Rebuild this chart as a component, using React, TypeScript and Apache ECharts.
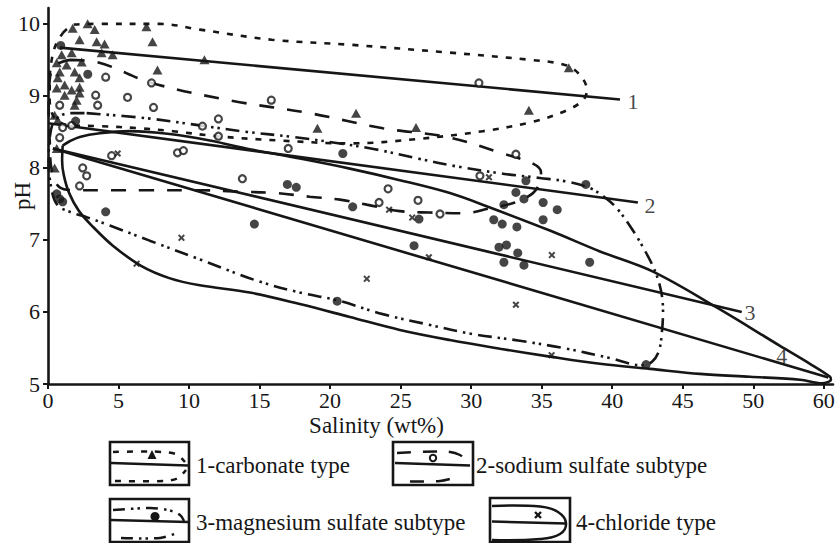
import React, { useEffect, useRef } from "react";
import * as echarts from "echarts";

// ---------- axis ticks ----------
const X_TICKS = [0, 5, 10, 15, 20, 25, 30, 35, 40, 45, 50, 55];
const X_TICK_LABELS = ["0", "5", "10", "15", "20", "25", "30", "35", "40", "45", "50", "60"];
const Y_TICKS = [5, 6, 7, 8, 9, 10];

// ---------- trend lines (salinity wt%, pH) ----------
const line1 = [[0.83, 9.67], [40.55, 8.95]];
const line2 = [[0, 8.62], [41.82, 7.52]];
const line3 = [[0.35, 8.27], [49.18, 6.0]];
const line4 = [[0.35, 8.27], [55.32, 5.09]];
const lineLabels = [[41.47, 8.92, "1"], [42.67, 7.48, "2"], [49.77, 5.99, "3"], [52.02, 5.39, "4"]];

// ---------- envelopes ----------
const carbonateEnvelope = [
  [1.04, 9.87], [1.89, 9.99], [3.67, 10.0], [7.92, 10.0], [10.76, 9.92], [15.86, 9.78], [21.4, 9.71],
  [28.5, 9.6], [34.16, 9.5], [36.65, 9.43], [37.71, 9.29], [38.21, 9.08], [37.92, 8.94], [36.79, 8.8],
  [34.38, 8.64], [30.83, 8.51], [26.15, 8.4], [21.4, 8.34], [16.43, 8.38], [11.97, 8.44], [8.85, 8.51],
  [6.51, 8.55], [3.67, 8.58], [1.54, 8.59], [0.48, 8.69], [0.12, 8.94], [0.12, 9.22], [0.26, 9.5],
  [0.55, 9.71], [1.04, 9.87],
];
const sodiumEnvelope = [
  [1.54, 9.5], [3.45, 9.47], [7.35, 9.18], [13.11, 8.93], [18.55, 8.76], [23.74, 8.55], [28.28, 8.43],
  [32.25, 8.2], [34.38, 8.06], [34.95, 7.94], [34.87, 7.8], [34.38, 7.65], [33.1, 7.52], [31.33, 7.44],
  [29.41, 7.37], [27.07, 7.38], [24.94, 7.4], [22.6, 7.49], [20.69, 7.56], [18.55, 7.6], [16.22, 7.65],
  [13.6, 7.67], [10.76, 7.69], [7.21, 7.69], [4.38, 7.69], [2.04, 7.69], [0.83, 7.73], [0.26, 7.97],
  [0.12, 8.38], [0.05, 8.8], [0.12, 9.22], [0.48, 9.42], [1.54, 9.5],
];
const magnesiumEnvelope = [
  [2.74, 8.76], [7.0, 8.69], [10.76, 8.59], [14.09, 8.5], [17.35, 8.43], [20.69, 8.34], [23.17, 8.26],
  [26.22, 8.13], [28.99, 8.02], [32.25, 7.92], [34.87, 7.86], [36.79, 7.81], [38.42, 7.72], [39.48, 7.59],
  [40.33, 7.44], [41.47, 7.13], [42.32, 6.85], [43.03, 6.57], [43.45, 6.3], [43.6, 6.02], [43.53, 5.74],
  [43.31, 5.46], [42.82, 5.31], [42.11, 5.26], [39.84, 5.36], [36.5, 5.5], [33.45, 5.6], [29.91, 5.7],
  [27.07, 5.82], [23.74, 5.97], [20.55, 6.16], [17.85, 6.27], [14.87, 6.43], [10.76, 6.73], [7.21, 6.99],
  [4.38, 7.2], [2.82, 7.31], [1.68, 7.38], [0.69, 7.48], [0.26, 7.69], [0.05, 8.11], [0.12, 8.41],
  [0.48, 8.66], [1.54, 8.76], [2.74, 8.76],
];
const chlorideEnvelope = [
  [1.04, 8.31], [1.54, 8.37], [2.25, 8.43], [3.67, 8.48], [5.79, 8.51], [8.63, 8.47], [11.47, 8.38],
  [14.3, 8.26], [17.85, 8.13], [21.4, 7.99], [24.94, 7.83], [28.49, 7.65], [31.33, 7.45], [35.58, 7.13],
  [39.13, 6.84], [42.89, 6.56], [47.43, 6.06], [51.89, 5.53], [54.02, 5.28], [55.44, 5.1], [55.5, 5.06],
  [54.87, 5.01], [53.31, 5.06], [49.77, 5.1], [46.22, 5.14], [42.68, 5.21], [39.13, 5.28], [35.58, 5.38],
  [32.04, 5.49], [28.49, 5.61], [24.94, 5.75], [21.4, 5.93], [17.85, 6.11], [14.3, 6.27], [10.76, 6.37],
  [8.6, 6.47], [6.6, 6.64], [4.6, 6.92], [3.2, 7.18], [2.2, 7.4], [1.5, 7.65],
  [1.12, 7.9], [1.0, 8.1], [1.04, 8.31],
];

// ---------- samples ----------
const carbonateSamples = [
  [1.75, 9.94], [2.81, 10.0], [3.31, 9.92], [2.24, 9.78], [3.45, 9.75], [4.01, 9.72], [0.97, 9.57],
  [1.68, 9.6], [3.8, 9.6], [4.58, 9.57], [2.39, 9.47], [0.62, 9.46], [1.32, 9.43], [0.83, 9.33],
  [1.89, 9.33], [0.69, 9.25], [2.24, 9.25], [1.18, 9.15], [2.24, 9.12], [0.62, 9.11], [1.68, 9.08],
  [2.24, 9.04], [1.18, 9.01], [2.03, 8.94], [1.89, 8.87], [0.47, 8.73], [0.69, 8.66], [0.62, 8.27],
  [0.47, 8.0], [6.98, 9.96], [7.41, 9.75], [7.76, 9.36], [11.09, 9.5], [36.92, 9.39], [34.09, 8.8],
  [26.09, 8.56], [21.84, 8.76], [19.1, 8.55],
];
const sodiumSamples = [
  [4.09, 9.26], [7.34, 9.18], [3.38, 9.01], [3.52, 8.87], [5.64, 8.98], [7.48, 8.84], [0.83, 8.87],
  [0.83, 8.42], [1.68, 8.59], [1.04, 8.56], [12.08, 8.68], [10.95, 8.58], [12.08, 8.44], [9.18, 8.21],
  [9.6, 8.24], [4.51, 8.17], [2.46, 8.0], [2.74, 7.89], [2.24, 7.75], [13.78, 7.85], [15.83, 8.94],
  [30.55, 9.18], [17.03, 8.27], [33.17, 8.19], [30.62, 7.89], [24.11, 7.71], [23.47, 7.52], [26.23, 7.55],
  [27.79, 7.36],
];
const magnesiumSamples = [
  [0.9, 9.7], [2.82, 9.3], [1.96, 8.65], [20.9, 8.2], [16.97, 7.77], [17.6, 7.73], [33.88, 7.82],
  [33.17, 7.66], [33.74, 7.57], [32.32, 7.49], [38.13, 7.77], [14.63, 7.22], [21.6, 7.46], [26.3, 7.29],
  [25.95, 6.92], [31.6, 7.28], [32.2, 7.22], [33.24, 7.18], [35.1, 7.52], [35.1, 7.28], [36.1, 7.42],
  [31.97, 6.9], [32.5, 6.93], [33.3, 6.82], [32.32, 6.69], [33.74, 6.65], [20.5, 6.15], [38.4, 6.69],
  [42.4, 5.27], [4.09, 7.39], [0.62, 7.64], [0.83, 7.57], [1.04, 7.53],
];
const chlorideSamples = [
  [4.94, 8.2], [31.26, 7.87], [24.18, 7.42], [25.82, 7.31], [27.0, 6.76], [22.6, 6.46], [33.17, 6.1],
  [35.72, 6.79], [35.7, 5.4], [9.46, 7.03], [6.28, 6.67],
];

// ---------- legend ----------
const LEGEND_TEXTS = ["1-carbonate type", "2-sodium sulfate subtype", "3-magnesium sulfate subtype", "4-chloride type"];

const INK = "#161616";
const FONT = "Liberation Serif";
const DASH_SHORT = [6, 8];
const DASH_LONG = [15, 13];
const DASH_DOTDOT = [14, 6, 2.5, 4, 2.5, 6];
const X_SYMBOL = "path://M0,2L2,0L5,3L8,0L10,2L7,5L10,8L8,10L5,7L2,10L0,8L3,5Z";

function envelope(name: string, data: number[][], type: any) {
  return {
    type: "line", name, data, smooth: 0.35, symbol: "none", showSymbol: false, silent: true,
    lineStyle: { color: INK, width: 2.6, type }, z: 2,
  };
}
function trend(name: string, data: number[][]) {
  return {
    type: "line", name, data, symbol: "none", showSymbol: false, silent: true,
    lineStyle: { color: INK, width: 2.6, type: "solid" }, z: 3,
  };
}

function legendGraphics() {
  const st = (dash?: number[]) => ({ stroke: INK, lineWidth: 2.5, fill: "none", lineDash: dash || null });
  const box = (x: number, y: number, w: number, h: number) => ({
    type: "rect", shape: { x, y, width: w, height: h }, style: { fill: "none", stroke: INK, lineWidth: 2.6 },
  });
  const pl = (points: number[][], dash?: number[], smooth?: number) => ({
    type: "polyline", shape: { points, smooth: smooth || 0 }, style: st(dash),
  });
  const txt = (text: string, x: number, y: number) => ({
    type: "text", x, y,
    style: { text, fill: INK, fontSize: 23, fontFamily: FONT, verticalAlign: "middle", align: "left" },
  });
  return [
    // 1 carbonate
    box(110, 442, 79, 43),
    pl([[111, 463], [188, 465.5]]),
    pl([[113, 452], [150, 451.5], [168, 452.5], [178, 455], [185, 462]], DASH_SHORT, 0.3),
    { type: "polygon", shape: { points: [[152, 450], [147.5, 459], [156.5, 459]] }, style: { fill: INK } },
    pl([[115, 481], [165, 481], [178, 478], [186, 470]], DASH_SHORT, 0.3),
    txt(LEGEND_TEXTS[0], 196, 465),
    // 2 sodium sulfate
    box(393, 442, 80, 43),
    pl([[395, 463], [470, 465.5]]),
    pl([[397, 453], [445, 451.5], [460, 455], [468, 463]], [14, 12], 0.3),
    { type: "circle", shape: { cx: 433, cy: 458, r: 3.2 }, style: { fill: "#fff", stroke: INK, lineWidth: 2 } },
    pl([[410, 481.5], [440, 481], [457, 477]], [14, 12], 0.3),
    txt(LEGEND_TEXTS[1], 476, 465),
    // 3 magnesium sulfate
    box(110, 499, 79, 43),
    pl([[111, 520], [188, 522]]),
    pl([[113, 510], [150, 508], [168, 510], [180, 515], [184, 521]], [12, 6, 2.5, 4, 2.5, 6], 0.3),
    { type: "circle", shape: { cx: 155, cy: 516.5, r: 4.5 }, style: { fill: INK } },
    pl([[121, 538], [160, 538], [177, 533]], [12, 6, 2.5, 4, 2.5, 6], 0.3),
    txt(LEGEND_TEXTS[2], 196, 522),
    // 4 chloride
    box(490, 498, 80, 44),
    pl([[492, 506], [540, 506.5], [558, 512], [566, 523], [560, 534], [540, 539], [492, 540]], undefined, 0.4),
    pl([[492, 521.5], [566, 523.5]]),
    { type: "line", shape: { x1: 535, y1: 512, x2: 541, y2: 518 }, style: { stroke: INK, lineWidth: 2.4 } },
    { type: "line", shape: { x1: 541, y1: 512, x2: 535, y2: 518 }, style: { stroke: INK, lineWidth: 2.4 } },
    txt(LEGEND_TEXTS[3], 576, 522),
  ];
}

export default function App() {
  const ref = useRef<HTMLDivElement>(null);
  useEffect(() => {
    if (!ref.current) return;
    const chart = echarts.init(ref.current, null, { renderer: "svg" });
    const option: any = {
      animation: false,
      backgroundColor: "#ffffff",
      textStyle: { fontFamily: FONT },
      grid: { left: 48, right: 4, top: 8, bottom: 159, containLabel: false, outerBoundsMode: "none" },
      xAxis: {
        type: "value", min: 0, max: 55.65,
        axisLine: { show: true, onZero: false, lineStyle: { color: INK, width: 2.6 } },
        axisTick: { show: true, customValues: X_TICKS, length: 5, lineStyle: { color: INK, width: 2 } },
        axisLabel: {
          customValues: X_TICKS, margin: 5, color: INK, fontSize: 22, fontFamily: FONT,
          formatter: (v: number) => { const i = X_TICKS.indexOf(v); return i >= 0 ? X_TICK_LABELS[i] : ""; },
        },
        splitLine: { show: false },
        name: "Salinity (wt%)", nameLocation: "middle", nameGap: 30, nameMoveOverlap: false,
        nameTextStyle: { color: INK, fontSize: 23, fontFamily: FONT, padding: [0, 128, 0, 0] },
      },
      yAxis: {
        type: "value", min: 5, max: 10.22,
        axisLine: { show: true, onZero: false, lineStyle: { color: INK, width: 2.6 } },
        axisTick: { show: true, customValues: Y_TICKS, length: 5, lineStyle: { color: INK, width: 2 } },
        axisLabel: { customValues: Y_TICKS, margin: 8, color: INK, fontSize: 22, fontFamily: FONT },
        splitLine: { show: false },
        name: "pH", nameLocation: "middle", nameRotate: 90, nameGap: 14, nameMoveOverlap: false,
        nameTextStyle: { color: INK, fontSize: 23, fontFamily: FONT },
      },
      series: [
        envelope("carbonate envelope", carbonateEnvelope, DASH_SHORT),
        envelope("sodium sulfate envelope", sodiumEnvelope, DASH_LONG),
        envelope("magnesium sulfate envelope", magnesiumEnvelope, DASH_DOTDOT),
        envelope("chloride envelope", chlorideEnvelope, "solid"),
        trend("trend 1", line1),
        trend("trend 2", line2),
        trend("trend 3", line3),
        trend("trend 4", line4),
        {
          type: "scatter", name: "carbonate type", data: carbonateSamples, symbol: "triangle",
          symbolSize: [10, 9], itemStyle: { color: INK }, z: 5, silent: true,
        },
        {
          type: "scatter", name: "sodium sulfate subtype", data: sodiumSamples, symbol: "circle",
          symbolSize: 7, itemStyle: { color: "#fff", borderColor: INK, borderWidth: 2.2 }, z: 5, silent: true,
        },
        {
          type: "scatter", name: "magnesium sulfate subtype", data: magnesiumSamples, symbol: "circle",
          symbolSize: 9, itemStyle: { color: INK }, z: 5, silent: true,
        },
        {
          type: "scatter", name: "chloride type", data: chlorideSamples, symbol: X_SYMBOL,
          symbolSize: 7, itemStyle: { color: INK }, z: 5, silent: true,
        },
        {
          type: "scatter", name: "line labels", data: lineLabels, symbolSize: 1,
          itemStyle: { color: "rgba(0,0,0,0)" }, z: 6, silent: true,
          label: {
            show: true, position: "inside", color: INK, fontSize: 22, fontFamily: FONT,
            formatter: (p: any) => p.data[2],
          },
        },
      ],
      graphic: legendGraphics(),
    };
    chart.setOption(option);
    return () => chart.dispose();
  }, []);
  return (
    <div
      ref={ref}
      style={{ position: "fixed", left: 0, top: 0, width: 837, height: 543, background: "#fff" }}
    />
  );
}
